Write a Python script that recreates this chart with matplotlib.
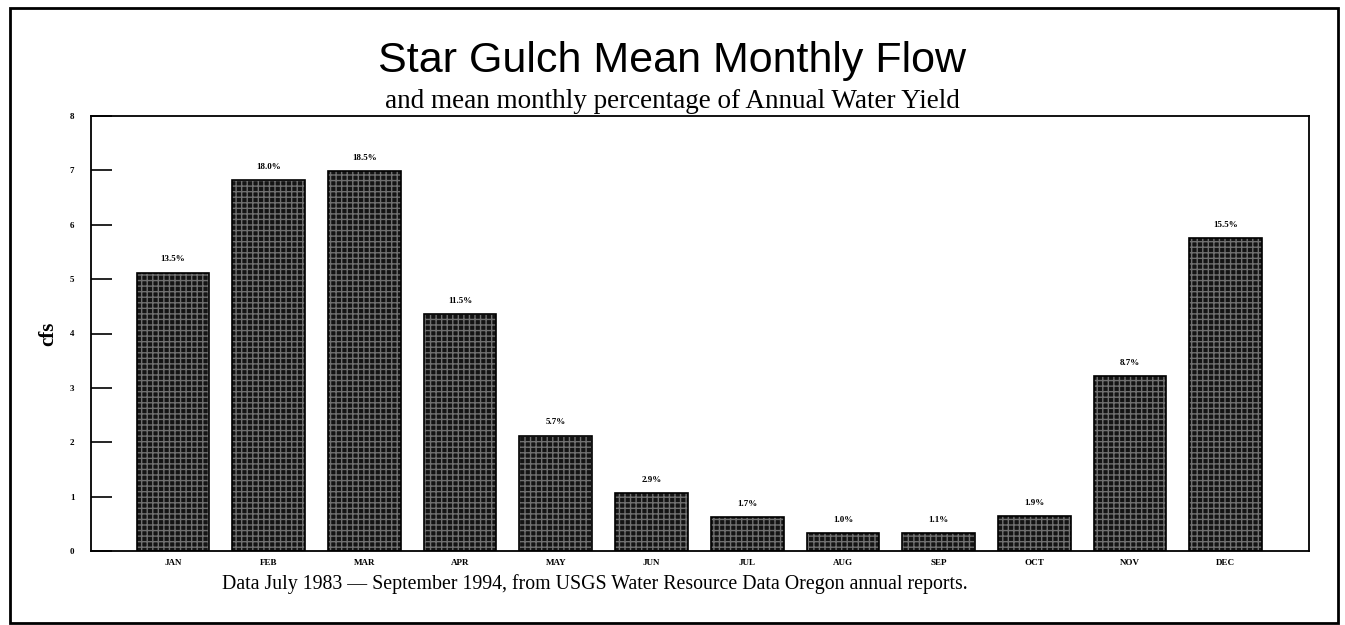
import matplotlib.pyplot as plt
import matplotlib.patches as mpatches
import numpy as np

# Mean monthly flow (cfs) and percentage of annual water yield
months = ['JAN', 'FEB', 'MAR', 'APR', 'MAY', 'JUN', 'JUL', 'AUG', 'SEP', 'OCT', 'NOV', 'DEC']
flow_cfs = [5.12, 6.82, 6.98, 4.35, 2.12, 1.07, 0.62, 0.33, 0.33, 0.64, 3.22, 5.75]
pct_yield = ['13.5%', '18.0%', '18.5%', '11.5%', '5.7%', '2.9%', '1.7%', '1.0%', '1.1%', '1.9%', '8.7%', '15.5%']
y_ticks = [0, 1, 2, 3, 4, 5, 6, 7, 8]

serif = ['Liberation Serif', 'DejaVu Serif']
sans = ['Liberation Sans', 'DejaVu Sans']

fig = plt.figure(figsize=(13.45, 6.25), dpi=100)
fig.patch.set_facecolor('white')

# outer frame
fig.add_artist(mpatches.Rectangle((10 / 1345, 2 / 625), 1328 / 1345, 615 / 625,
                                  transform=fig.transFigure, fill=False,
                                  edgecolor='black', linewidth=2))

ax = fig.add_axes([91 / 1345, (625 - 551) / 625, (1309 - 91) / 1345, (551 - 116) / 625])

x = np.arange(len(months))
# dark stippled fill
ax.bar(x, flow_cfs, width=0.76, color='#141414', edgecolor='#707070',
       hatch='+++', linewidth=0, zorder=2)
ax.bar(x, flow_cfs, width=0.76, fill=False, edgecolor='black', linewidth=1.2, zorder=3)

for xi, v, p in zip(x, flow_cfs, pct_yield):
    ax.text(xi, v + 0.17, p, ha='center', va='bottom', fontsize=6.5,
            fontweight='bold', family=serif)

ax.set_xlim(-0.857, 11.87)
ax.set_ylim(0, 8)
ax.set_yticks(y_ticks)
ax.set_yticklabels([str(t) for t in y_ticks], fontsize=6.5, fontweight='bold', family=serif)
ax.set_xticks(x)
ax.set_xticklabels(months, fontsize=6.5, fontweight='bold', family=serif)
ax.tick_params(axis='x', length=0, pad=6)
ax.tick_params(axis='y', direction='in', length=15, width=1.2, pad=12)
for s in ax.spines.values():
    s.set_linewidth(1.3)

ax.set_ylabel('cfs', fontsize=15, fontweight='bold', family=serif)
ax.yaxis.set_label_coords(-0.027, 0.5)

fig.text(0.5, 1 - 61 / 625, 'Star Gulch Mean Monthly Flow', ha='center', va='center',
         fontsize=31, family=sans)
fig.text(0.5, 1 - 102 / 625, 'and mean monthly percentage of Annual Water Yield',
         ha='center', va='center', fontsize=19.5, family=serif)
fig.text(222 / 1345, 1 - 584 / 625,
         'Data July 1983 \u2014 September 1994, from USGS Water Resource Data Oregon annual reports.',
         ha='left', va='center', fontsize=14.3, family=serif)

plt.savefig('out.png', dpi=100, facecolor='white')
